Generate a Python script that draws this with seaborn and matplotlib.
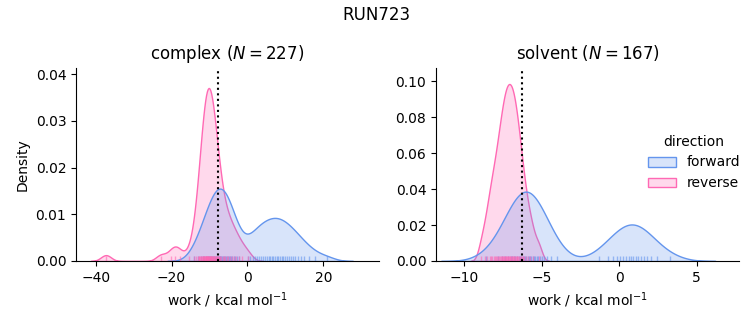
import matplotlib
matplotlib.use("Agg")
import matplotlib.pyplot as plt
import pandas as pd
import seaborn as sns

# work values (kcal/mol)
complex_forward = [-14.12, -13.12, -12.36, -11.80, -11.34, -10.88, -10.50, -10.18, -9.86, -9.55,
                   -9.24, -9.00, -8.75, -8.51, -8.26, -8.02, -7.79, -7.56, -7.35, -7.13,
                   -6.90, -6.67, -6.44, -6.20, -5.97, -5.73, -5.45, -5.19, -4.90, -4.64,
                   -4.34, -3.97, -3.59, -3.22, -2.80, -2.30,
                   0.20, 0.79, 1.39, 1.98, 2.58, 3.13, 3.62, 4.12, 4.62, 5.11,
                   5.57, 5.99, 6.43, 6.86, 7.30, 7.72, 8.15, 8.58, 9.01, 9.45,
                   9.94, 10.44, 10.94, 11.44, 12.00, 12.67, 13.36, 14.04, 15.04, 16.18,
                   17.84, 20.86]
complex_reverse = [-37.3, -22.8, -20.1, -19.0, -17.9, -15.3, -14.14, -13.59, -13.11, -12.88,
                   -12.65, -12.42, -12.27, -12.12, -11.98, -11.83, -11.69, -11.58, -11.47, -11.37,
                   -11.25, -11.14, -11.04, -10.94, -10.85, -10.75, -10.65, -10.56, -10.46, -10.37,
                   -10.28, -10.18, -10.08, -9.98, -9.88, -9.79, -9.69, -9.59, -9.49, -9.38,
                   -9.27, -9.16, -9.05, -8.94, -8.82, -8.68, -8.54, -8.39, -8.24, -8.09,
                   -7.95, -7.80, -7.61, -7.39, -7.14, -6.87, -6.53, -6.19, -5.86, -5.49,
                   -5.06, -4.62, -4.15, -3.59, -3.04, -2.26, -1.31, 0.17]
solvent_forward = [-8.60, -7.84, -7.55, -7.35, -7.18, -7.02, -6.91, -6.80, -6.70, -6.58,
                   -6.50, -6.42, -6.32, -6.24, -6.17, -6.08, -6.01, -5.92, -5.85, -5.77,
                   -5.70, -5.60, -5.51, -5.43, -5.33, -5.23, -5.10, -4.97, -4.84, -4.65,
                   -4.43, -4.03,
                   -1.29, -0.74, -0.39, -0.16, 0.07, 0.26, 0.42, 0.60, 0.75, 0.91,
                   1.07, 1.24, 1.41, 1.61, 1.82, 2.07, 2.42, 3.30]
solvent_reverse = [-8.91, -8.65, -8.51, -8.37, -8.29, -8.19, -8.11, -8.03, -7.96, -7.89,
                   -7.82, -7.75, -7.71, -7.66, -7.60, -7.55, -7.50, -7.45, -7.41, -7.36,
                   -7.33, -7.28, -7.24, -7.19, -7.16, -7.11, -7.07, -7.03, -6.98, -6.95,
                   -6.90, -6.86, -6.82, -6.77, -6.73, -6.68, -6.63, -6.58, -6.53, -6.48,
                   -6.42, -6.35, -6.28, -6.20, -6.13, -6.01, -5.89, -5.74, -5.55, -5.20]

phases = ["complex", "solvent"]
directions = ["forward", "reverse"]
n_label = {"complex": 227, "solvent": 167}
free_energy = {"complex": -7.8, "solvent": -6.28}
title = "RUN723"

series = {("complex", "forward"): complex_forward, ("complex", "reverse"): complex_reverse,
          ("solvent", "forward"): solvent_forward, ("solvent", "reverse"): solvent_reverse}
rows = []
for (phase, direction), values in series.items():
    for v in values:
        rows.append((phase, direction, v))
df = pd.DataFrame(rows, columns=["phase", "direction", "work"])

g = sns.displot(data=df, x="work", hue="direction", col="phase", kind="kde",
                fill=True, rug=True, bw_adjust=0.6, rug_kws={"alpha": 0.6},
                hue_order=directions, col_order=phases,
                palette={"forward": "cornflowerblue", "reverse": "hotpink"},
                facet_kws=dict(sharex=False, sharey=False), height=3, aspect=1)
g.set_axis_labels("work / kcal mol$^{-1}$", "Density")

limits = {"complex": ((-45.2, 34.7), (0, 0.0414)),
          "solvent": ((-11.83, 7.73), (0, 0.1074))}
for phase, ax in g.axes_dict.items():
    ax.set_title(f"{phase} ($N = {n_label[phase]}$)")
    ax.axvline(free_energy[phase], color="k", ls=":", lw=1.5)
    ax.set_xlim(*limits[phase][0])
    ax.set_ylim(*limits[phase][1])

fig = g.figure
fig.suptitle(title)
fig.set_size_inches(7.53, 3.25)
fig.subplots_adjust(left=76 / 753, right=739 / 753, bottom=1 - 261 / 325,
                    top=1 - 67.7 / 325, wspace=57 / 303)
fig.savefig("out.png", dpi=100)
